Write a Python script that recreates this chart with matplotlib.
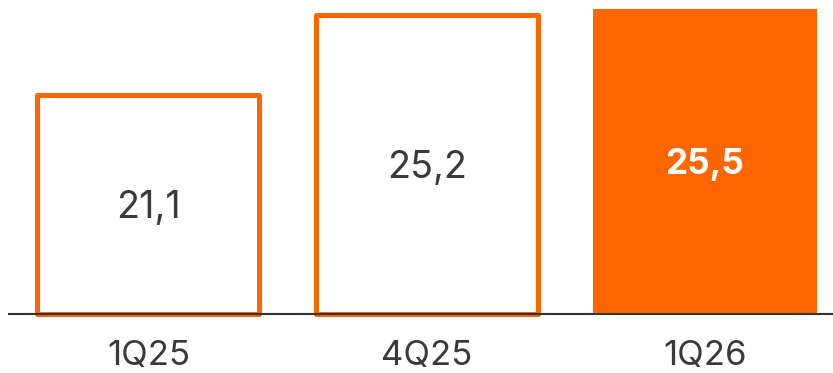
import matplotlib
matplotlib.use("Agg")
import matplotlib.pyplot as plt

categories = ["1Q25", "4Q25", "1Q26"]
values = [21.1, 25.2, 25.5]
labels = ["21,1", "25,2", "25,5"]
filled = [False, False, True]

ORANGE = "#FF6600"
TEXT = "#3a3a3a"
plt.rcParams['font.family'] = ['Inter', 'DejaVu Sans']

fig = plt.figure(figsize=(8.33, 3.73), dpi=100)
ax = fig.add_axes([9/833, 1 - 313.5/373, 824/833, 313.5/373])

x = list(range(len(categories)))
base = 10.0
for xi, v, lab, f in zip(x, values, labels, filled):
    center = (v + base) / 2
    if f:
        ax.bar(xi, v - base, bottom=base, width=0.805, color=ORANGE, edgecolor='none', clip_on=False)
        fs = 25.3
        ax.annotate(lab, (xi, center), xytext=(0, -0.3635 * fs), textcoords='offset points',
                    ha='center', va='baseline', color='white', fontsize=fs, fontweight='bold')
    else:
        ax.bar(xi, v - base, bottom=base, width=0.798, facecolor='white', edgecolor=ORANGE,
               linewidth=3.6, joinstyle='round', clip_on=False)
        fs = 27.2
        ax.annotate(lab, (xi, center), xytext=(0, -0.3635 * fs), textcoords='offset points',
                    ha='center', va='baseline', color=TEXT, fontsize=fs)

ax.set_xlim(-0.501, 2.46)
ax.set_ylim(base, 25.96)
ax.set_xticks(x)
ax.set_xticklabels(categories, fontsize=25, color=TEXT)
plt.setp(ax.get_xticklabels(), va='baseline')
ax.tick_params(axis='x', length=0, pad=37)
ax.set_yticks([])
for s in ['top', 'right', 'left']:
    ax.spines[s].set_visible(False)
ax.spines['bottom'].set_color('#333333')
ax.spines['bottom'].set_linewidth(1.5)
ax.spines['bottom'].set_zorder(5)

fig.savefig("out.png", dpi=100)
